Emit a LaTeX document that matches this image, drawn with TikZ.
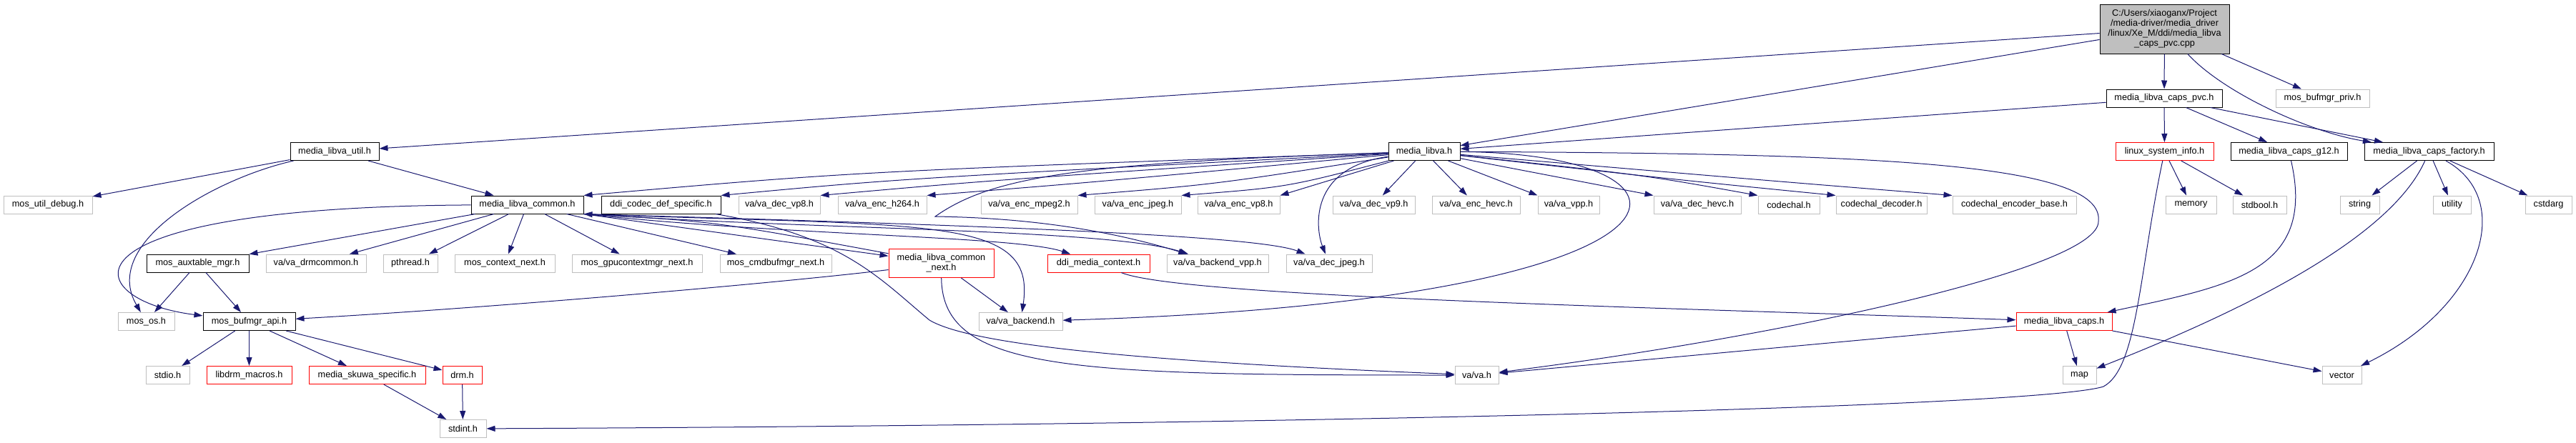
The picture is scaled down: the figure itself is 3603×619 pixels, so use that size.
\documentclass[tikz,border=0pt]{standalone}
\usepackage{fontspec}
\setmainfont{Liberation Sans}
\usetikzlibrary{arrows.meta}
\definecolor{inclNavy}{HTML}{191970}
\definecolor{hdrGray}{HTML}{BFBFBF}
\definecolor{rootGray}{HTML}{BFBFBF}
\definecolor{hdrRed}{HTML}{FF0000}
\begin{document}
\begin{tikzpicture}[x=1pt,y=-1pt,
  hdr/.style={rectangle,draw,line width=1pt,fill=white,inner sep=0pt,minimum height=25pt,
    font=\fontsize{12.7}{14}\selectfont,align=center},
  hdrDoc/.style={hdr,draw=black},
  hdrSys/.style={hdr,draw=hdrGray},
  hdrMiss/.style={hdr,draw=hdrRed},
  incl/.style={draw=inclNavy,line width=1pt,-{Triangle[length=12pt,width=8pt]}}]
\useasboundingbox (0,0) rectangle (3603,619);

\node[hdrDoc,fill=rootGray,minimum width=181pt,minimum height=69pt] (root) at (3027.5,40.5)
  {C:/Users/xiaoganx/Project\\/media-driver/media\_driver\\/linux/Xe\_M/ddi/media\_libva\\\_caps\_pvc.cpp};
\node[hdrDoc,minimum width=162pt] (capspvc) at (3027,137.5) {media\_libva\_caps\_pvc.h};
\node[hdrSys,minimum width=131pt] (bufpriv) at (3248.5,137.5) {mos\_bufmgr\_priv.h};

\node[hdrDoc,minimum width=124pt] (util) at (468,212) {media\_libva\_util.h};
\node[hdrDoc,minimum width=100pt] (libva) at (1992,212) {media\_libva.h};
\node[hdrMiss,minimum width=137pt] (sysinfo) at (3027.5,212) {linux\_system\_info.h};
\node[hdrDoc,minimum width=163pt] (capsg12) at (3201.5,212) {media\_libva\_caps\_g12.h};
\node[hdrDoc,minimum width=181pt] (capsfac) at (3397.5,212) {media\_libva\_caps\_factory.h};

\node[hdrSys,minimum width=124pt] (utildebug) at (67,286.5) {mos\_util\_debug.h};
\node[hdrDoc,minimum width=157pt] (common) at (737.5,286.5) {media\_libva\_common.h};
\node[hdrDoc,minimum width=167pt] (codecdef) at (924.5,286.5) {ddi\_codec\_def\_specific.h};
\node[hdrSys,minimum width=114pt] (decvp8) at (1090,286.5) {va/va\_dec\_vp8.h};
\node[hdrSys,minimum width=124pt] (ench264) at (1234,286.5) {va/va\_enc\_h264.h};
\node[hdrSys,minimum width=135pt] (encmpeg2) at (1439.5,286.5) {va/va\_enc\_mpeg2.h};
\node[hdrSys,minimum width=121pt] (encjpeg) at (1591.5,286.5) {va/va\_enc\_jpeg.h};
\node[hdrSys,minimum width=115pt] (encvp8) at (1732.5,286.5) {va/va\_enc\_vp8.h};
\node[hdrSys,minimum width=115pt] (decvp9) at (1921.5,286.5) {va/va\_dec\_vp9.h};
\node[hdrSys,minimum width=123pt] (enchevc) at (2064.5,286.5) {va/va\_enc\_hevc.h};
\node[hdrSys,minimum width=86pt] (vpp) at (2194,286.5) {va/va\_vpp.h};
\node[hdrSys,minimum width=122pt] (dechevc) at (2374,286.5) {va/va\_dec\_hevc.h};
\node[hdrSys,minimum width=86pt] (codechal) at (2502,286.5) {codechal.h};
\node[hdrSys,minimum width=127pt] (codecdec) at (2631.5,286.5) {codechal\_decoder.h};
\node[hdrSys,minimum width=173pt] (codecenc) at (2817.5,286.5) {codechal\_encoder\_base.h};
\node[hdrSys,minimum width=71pt] (memory) at (3064.5,286.5) {memory};
\node[hdrSys,minimum width=75pt] (stdbool) at (3160.5,286.5) {stdbool.h};
\node[hdrSys,minimum width=55pt] (string) at (3300.5,286.5) {string};
\node[hdrSys,minimum width=53pt] (utility) at (3429.5,286.5) {utility};
\node[hdrSys,minimum width=65pt] (cstdarg) at (3564.5,286.5) {cstdarg};

\node[hdrDoc,minimum width=143pt] (auxtable) at (276.5,368.5) {mos\_auxtable\_mgr.h};
\node[hdrSys,minimum width=140pt] (drmcommon) at (442,368.5) {va/va\_drmcommon.h};
\node[hdrSys,minimum width=76pt] (pthread) at (574,368.5) {pthread.h};
\node[hdrSys,minimum width=140pt] (ctxnext) at (706,368.5) {mos\_context\_next.h};
\node[hdrSys,minimum width=182pt] (gpuctx) at (891,368.5) {mos\_gpucontextmgr\_next.h};
\node[hdrSys,minimum width=156pt] (cmdbuf) at (1085,368.5) {mos\_cmdbufmgr\_next.h};
\node[hdrMiss,minimum width=147pt,minimum height=40pt] (commonnext) at (1316.5,368.5) {media\_libva\_common\\\_next.h};
\node[hdrMiss,minimum width=143pt] (mediactx) at (1536.5,368.5) {ddi\_media\_context.h};
\node[hdrSys,minimum width=142pt] (backendvpp) at (1703,368.5) {va/va\_backend\_vpp.h};
\node[hdrSys,minimum width=120pt] (decjpeg) at (1859,368.5) {va/va\_dec\_jpeg.h};

\node[hdrSys,minimum width=79pt] (mosos) at (204.5,450) {mos\_os.h};
\node[hdrDoc,minimum width=129pt] (bufapi) at (348.5,450) {mos\_bufmgr\_api.h};
\node[hdrSys,minimum width=117pt] (backend) at (1427.5,450) {va/va\_backend.h};
\node[hdrMiss,minimum width=134pt] (caps) at (2887,450) {media\_libva\_caps.h};

\node[hdrSys,minimum width=61pt] (stdio) at (234.5,525) {stdio.h};
\node[hdrMiss,minimum width=119pt] (libdrm) at (348.5,525) {libdrm\_macros.h};
\node[hdrMiss,minimum width=163pt] (skuwa) at (513.5,525) {media\_skuwa\_specific.h};
\node[hdrMiss,minimum width=55pt] (drm) at (646.5,525) {drm.h};
\node[hdrSys,minimum width=61pt] (va) at (2065.5,525) {va/va.h};
\node[hdrSys,minimum width=47pt] (map) at (2908.5,525) {map};
\node[hdrSys,minimum width=55pt] (vector) at (3275.5,525) {vector};

\node[hdrSys,minimum width=65pt] (stdint) at (647.5,600) {stdint.h};

\coordinate (sbend) at (1308,303);
\coordinate (vaturn) at (2935,310);
\coordinate (intturn) at (2942,541);
\coordinate (vabend) at (1300,448);

\draw[incl] (root) -- (util);
\draw[incl] (root) -- (libva);
\draw[incl] (root) -- (capspvc);
\draw[incl] (root) -- (bufpriv);
\draw[incl] (root) .. controls (3110,130) and (3230,185) .. (capsfac);
\foreach \n in {libva,sysinfo,capsg12,capsfac} \draw[incl] (capspvc) -- (\n);

\draw[incl] (util) -- (utildebug);
\draw[incl] (util) -- (common);
\draw[incl] (util) .. controls (300,250) and (140,340) .. (mosos);

\foreach \n/\cx/\cy in {common/1200/240,codecdef/1260/250,decvp8/1390/252,ench264/1530/255,encmpeg2/1700/258,encjpeg/1800/262}
  \draw[incl] (libva) .. controls (\cx,\cy) .. (\n.north east);
\draw[incl] (libva) -- (encvp8.north east);
\draw[incl] (libva) -- (decvp9);
\draw[incl] (libva) -- (enchevc);
\draw[incl] (libva) -- (vpp.north west);
\draw[incl] (libva) -- (dechevc.north west);
\foreach \n/\cx/\cy in {codechal/2300/245,codecdec/2350/252,codecenc/2500/255}
  \draw[incl] (libva) .. controls (\cx,\cy) .. (\n.north west);
\draw[incl] (libva) .. controls (1830,235) and (1840,320) .. (decjpeg);
\draw[incl] (libva) .. controls (1520,228) and (1390,245) .. (sbend) .. controls (1450,305) and (1560,325) .. (backendvpp);
\draw[incl] (libva) .. controls (2420,215) and (2420,420) .. (backend);
\draw[incl] (libva) .. controls (2600,215) and (2945,225) .. (vaturn) .. controls (2935,375) and (2500,470) .. (va);

\foreach \n in {auxtable,drmcommon,pthread,ctxnext,gpuctx,cmdbuf} \draw[incl] (common) -- (\n);
\draw[incl] (common.south east) -- (commonnext);
\draw[incl] (commonnext) .. controls (1000,310) .. (common.south east);
\draw[incl] (common.south east) .. controls (1100,330) and (1420,330) .. (mediactx);
\draw[incl] (common.south east) .. controls (1150,322) and (1550,320) .. (backendvpp);
\draw[incl] (common.south east) .. controls (1400,316) and (1760,330) .. (decjpeg);
\draw[incl] (common.south east) .. controls (1300,318) and (1450,300) .. (backend);
\draw[incl] (common) .. controls (60,290) and (110,420) .. (bufapi);

\draw[incl] (codecdef) .. controls (1180,330) and (1230,390) .. (vabend) .. controls (1370,490) and (1700,510) .. (va);
\draw[incl] (commonnext) .. controls (1318,520) and (1500,525) .. (va);
\draw[incl] (commonnext) -- (backend);
\draw[incl] (commonnext) .. controls (1100,395) and (700,430) .. (bufapi);
\draw[incl] (mediactx) .. controls (1650,415) and (2300,430) .. (caps);

\draw[incl] (sysinfo) -- (memory);
\draw[incl] (sysinfo) -- (stdbool);
\draw[incl] (sysinfo) .. controls (2992,380) and (2990,515) .. (intturn) .. controls (2850,570) and (1800,595) .. (stdint);
\draw[incl] (capsg12) .. controls (3240,380) and (3120,400) .. (caps);
\foreach \n in {string,utility,cstdarg} \draw[incl] (capsfac) -- (\n);
\draw[incl] (capsfac) .. controls (3345,330) and (3150,430) .. (map);
\draw[incl] (capsfac) .. controls (3520,280) and (3470,430) .. (vector);

\foreach \n in {va,map,vector} \draw[incl] (caps) -- (\n);
\draw[incl] (auxtable) -- (mosos);
\draw[incl] (auxtable) -- (bufapi);
\foreach \n in {stdio,libdrm,skuwa,drm} \draw[incl] (bufapi) -- (\n);
\draw[incl] (skuwa) -- (stdint);
\draw[incl] (drm) -- (stdint);
\end{tikzpicture}
\end{document}
